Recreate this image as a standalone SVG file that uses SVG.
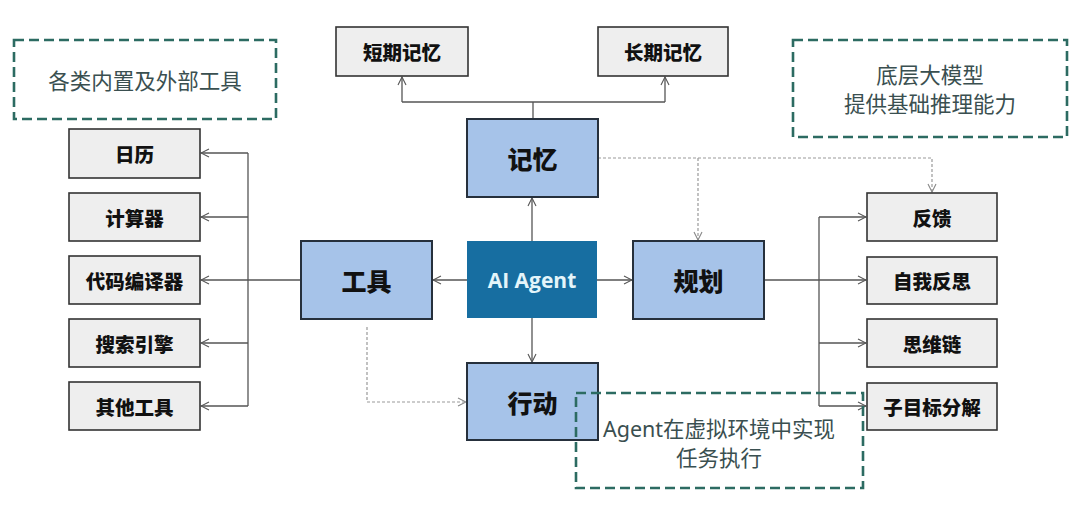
<svg xmlns="http://www.w3.org/2000/svg" width="1080" height="505" viewBox="0 0 1080 505">
<defs>
<marker id="arr" markerWidth="10" markerHeight="10" refX="9" refY="5" orient="auto" markerUnits="userSpaceOnUse">
<path d="M1,1 L9,5 L1,9" fill="none" stroke="#555" stroke-width="1.1"/>
</marker>
<marker id="arrd" markerWidth="10" markerHeight="10" refX="9" refY="5" orient="auto" markerUnits="userSpaceOnUse">
<path d="M1,1 L9,5 L1,9" fill="none" stroke="#888" stroke-width="1.1"/>
</marker>
</defs>
<style>
.gray{fill:#eeeeee;stroke:#333;stroke-width:1.6}
.blue{fill:#a6c3e9;stroke:#26303c;stroke-width:2}
.lbl{font-family:"Noto Sans CJK SC","Noto Sans",sans-serif;font-weight:900;font-size:19.5px;fill:#111;text-anchor:middle;dominant-baseline:central}
.big{font-size:25px}
.note{font-family:"Noto Sans","Noto Sans CJK SC",sans-serif;font-weight:400;font-size:21.5px;fill:#3a4f50;text-anchor:middle;dominant-baseline:central}
.dash{fill:none;stroke:#2c6b62;stroke-width:2.6;stroke-dasharray:10 5}
.ln{fill:none;stroke:#555;stroke-width:1.3}
.dl{fill:none;stroke:#999;stroke-width:1.2;stroke-dasharray:3 2}
</style>
<rect width="1080" height="505" fill="#ffffff"/>

<g id="connectors">
<path class="ln" d="M533,119 V102"/>
<path class="ln" d="M402,102 H665"/>
<path class="ln" d="M402,102 V77" marker-end="url(#arr)"/>
<path class="ln" d="M665,102 V77" marker-end="url(#arr)"/>
<path class="ln" d="M532,241 V198" marker-end="url(#arr)"/>
<path class="ln" d="M467,280 H433" marker-end="url(#arr)"/>
<path class="ln" d="M597,280 H632" marker-end="url(#arr)"/>
<path class="ln" d="M532,318 V362" marker-end="url(#arr)"/>
<path class="ln" d="M301,280 H201" marker-end="url(#arr)"/>
<path class="ln" d="M248,153 V406"/>
<path class="ln" d="M248,153 H201" marker-end="url(#arr)"/>
<path class="ln" d="M248,217 H201" marker-end="url(#arr)"/>
<path class="ln" d="M248,343 H201" marker-end="url(#arr)"/>
<path class="ln" d="M248,406 H201" marker-end="url(#arr)"/>
<path class="ln" d="M764,280 H866" marker-end="url(#arr)"/>
<path class="ln" d="M819,217 V406"/>
<path class="ln" d="M819,217 H866" marker-end="url(#arr)"/>
<path class="ln" d="M819,343 H866" marker-end="url(#arr)"/>
<path class="ln" d="M819,406 H866" marker-end="url(#arr)"/>
<path class="dl" d="M598,158 H932 V192" marker-end="url(#arrd)"/>
<path class="dl" d="M698,158 V240" marker-end="url(#arrd)"/>
<path class="dl" d="M367,327 V402 H466" marker-end="url(#arrd)"/>
</g>

<g id="note-tools">
<rect class="dash" x="14" y="40" width="262" height="79"/>
<text class="note" x="145" y="80">各类内置及外部工具</text>
</g>
<g id="note-llm">
<rect class="dash" x="793" y="40" width="274" height="97"/>
<text class="note" x="930" y="74">底层大模型</text>
<text class="note" x="930" y="103">提供基础推理能力</text>
</g>

<g id="short-memory">
<rect class="gray" x="336" y="27" width="132" height="49"/>
<text class="lbl" x="402" y="51.5">短期记忆</text>
</g>
<g id="long-memory">
<rect class="gray" x="598" y="27" width="130" height="49"/>
<text class="lbl" x="663" y="51.5">长期记忆</text>
</g>
<g id="memory">
<rect class="blue" x="467" y="119" width="131" height="78"/>
<text class="lbl big" x="532.5" y="158">记忆</text>
</g>
<g id="tools">
<rect class="blue" x="301" y="241" width="131" height="78"/>
<text class="lbl big" x="366.5" y="280">工具</text>
</g>
<g id="ai-agent">
<rect x="467" y="241" width="130" height="77" fill="#176ea1"/>
<text x="532" y="279.5" font-family="Open Sans, sans-serif" font-weight="700" font-size="21" fill="#e4f5fa" text-anchor="middle" dominant-baseline="central">AI Agent</text>
</g>
<g id="planning">
<rect class="blue" x="633" y="241" width="131" height="78"/>
<text class="lbl big" x="698.5" y="280">规划</text>
</g>
<g id="action">
<rect class="blue" x="467" y="363" width="131" height="77"/>
<text class="lbl big" x="532.5" y="402">行动</text>
</g>

<g id="calendar">
<rect class="gray" x="69" y="129" width="131" height="49"/>
<text class="lbl" x="134.5" y="153.5">日历</text>
</g>
<g id="calculator">
<rect class="gray" x="69" y="193" width="131" height="48"/>
<text class="lbl" x="134.5" y="217">计算器</text>
</g>
<g id="compiler">
<rect class="gray" x="69" y="256" width="131" height="48"/>
<text class="lbl" x="134.5" y="280">代码编译器</text>
</g>
<g id="search">
<rect class="gray" x="69" y="319" width="131" height="48"/>
<text class="lbl" x="134.5" y="343">搜索引擎</text>
</g>
<g id="other-tools">
<rect class="gray" x="69" y="382" width="131" height="48"/>
<text class="lbl" x="134.5" y="406">其他工具</text>
</g>

<g id="feedback">
<rect class="gray" x="867" y="193" width="130" height="48"/>
<text class="lbl" x="932" y="217">反馈</text>
</g>
<g id="reflection">
<rect class="gray" x="867" y="257" width="130" height="47"/>
<text class="lbl" x="932" y="280.5">自我反思</text>
</g>
<g id="cot">
<rect class="gray" x="867" y="319" width="130" height="48"/>
<text class="lbl" x="932" y="343">思维链</text>
</g>
<g id="subgoal">
<rect class="gray" x="867" y="383" width="130" height="47"/>
<text class="lbl" x="932" y="406.5">子目标分解</text>
</g>

<g id="note-action">
<rect class="dash" x="576" y="393" width="287" height="95"/>
<text class="note" x="719" y="428">Agent在虚拟环境中实现</text>
<text class="note" x="719" y="457">任务执行</text>
</g>
</svg>
